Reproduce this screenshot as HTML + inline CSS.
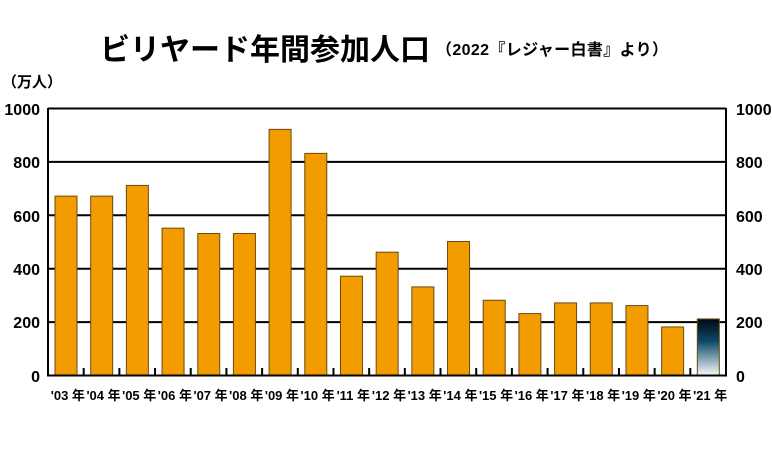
<!DOCTYPE html>
<html><head><meta charset="utf-8"><style>
body{margin:0;background:#fff;}
text{font-family:"Liberation Sans","Noto Sans CJK JP",sans-serif;}
</style></head><body>
<svg width="772" height="444" xmlns="http://www.w3.org/2000/svg">
<defs><linearGradient id="g" x1="0" y1="0" x2="0" y2="1"><stop offset="0" stop-color="#000814"/><stop offset="0.4" stop-color="#0e4a66"/><stop offset="1" stop-color="#f4f8fb"/></linearGradient></defs>
<text x="100" y="60" font-size="30" font-weight="bold" fill="#000">ビリヤード年間参加人口</text>
<text x="436" y="55" font-size="16" font-weight="bold" fill="#000" textLength="232">（2022『レジャー白書』より）</text>
<text x="2" y="87" font-size="15" font-weight="bold" fill="#000">（万人）</text>
<g stroke="#000" stroke-width="2">
<line x1="48" y1="108.5" x2="726" y2="108.5"/>
<line x1="48" y1="161.9" x2="726" y2="161.9"/>
<line x1="48" y1="215.3" x2="726" y2="215.3"/>
<line x1="48" y1="268.7" x2="726" y2="268.7"/>
<line x1="48" y1="322.1" x2="726" y2="322.1"/>
</g>
<g id="bars" stroke="#6b4a10" stroke-width="1"></g>
<g stroke="#000" stroke-width="2" fill="none">
<polyline points="48,108 48,375.5 726,375.5 726,108"/>
</g>
<g id="ticks" stroke="#000" stroke-width="2"></g>
<g font-size="16" font-weight="bold" text-anchor="end" fill="#000">
<text x="40" y="115">1000</text><text x="40" y="168">800</text><text x="40" y="222">600</text><text x="40" y="275">400</text><text x="40" y="328">200</text><text x="40" y="382">0</text>
</g>
<g font-size="16" font-weight="bold" text-anchor="start" fill="#000">
<text x="736" y="115">1000</text><text x="736" y="168">800</text><text x="736" y="222">600</text><text x="736" y="275">400</text><text x="736" y="328">200</text><text x="736" y="382">0</text>
</g>
<g id="labels" font-size="13" font-weight="bold" text-anchor="middle" fill="#000"></g>
</svg>
<script>
var v=[670,670,710,550,530,530,920,830,370,460,330,500,280,230,270,270,260,180,210];
var ns="http://www.w3.org/2000/svg",b=document.getElementById("bars"),t=document.getElementById("ticks"),l=document.getElementById("labels");
var w=678/19;
for(var i=0;i<19;i++){
 var x=48+i*w+7, h=v[i]*0.267;
 var r=document.createElementNS(ns,"rect");
 r.setAttribute("x",x);r.setAttribute("y",375-h);r.setAttribute("width",22);r.setAttribute("height",h);
 r.setAttribute("fill",i==18?"url(#g)":"#f39c00");b.appendChild(r);
 if(i>0){var k=document.createElementNS(ns,"line");var tx=48+i*w;k.setAttribute("x1",tx);k.setAttribute("x2",tx);k.setAttribute("y1",368);k.setAttribute("y2",375);t.appendChild(k);}
 var s=document.createElementNS(ns,"text");s.setAttribute("x",48+i*w+w/2+2);s.setAttribute("y",400);
 var yy=(3+i)<10?"0"+(3+i):""+(3+i);s.textContent="'"+yy+" 年";l.appendChild(s);
}
</script>
</body></html>
